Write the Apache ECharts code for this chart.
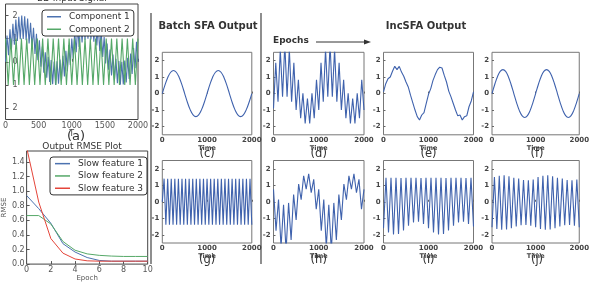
<!DOCTYPE html>
<html>
<head>
<meta charset="utf-8">
<script src="https://cdn.jsdelivr.net/npm/echarts@6/dist/echarts.min.js"></script>
<style>
  html, body { margin: 0; padding: 0; background: #fff; }
  #chart { width: 592px; height: 283px; }
</style>
</head>
<body>
<div id="chart"></div>
<script>
// (a) 2D input signal, values at evenly spaced times over 0..2000
var component1 = [0, 1.14, 0.28, 1.41, 0.53, 1.64, 0.74, 1.83, 0.90, 1.95, 0.98, 2.0, 0.99, 1.97, 0.93, 1.87, 0.79, 1.69, 0.59, 1.47,
  0.34, 1.21, 0.07, 0.93, -0.21, 0.66, -0.47, 0.41, -0.69, 0.21, -0.87, 0.07, -0.97, 0.01, -1.0, 0.02, -0.95, 0.10, -0.83, 0.26,
  -0.64, 0.47, -0.41, 0.72, -0.14, 1.0, 0.14, 1.28, 0.41, 1.53, 0.64, 1.74, 0.83, 1.90, 0.95, 1.98, 1.0, 1.99, 0.97, 1.93,
  0.87, 1.79, 0.70, 1.59, 0.47, 1.34, 0.21, 1.07, -0.07, 0.79, -0.34, 0.53, -0.59, 0.31, -0.79, 0.13, -0.93, 0.03, -0.99, 0.0,
  -0.98, 0.05, -0.90, 0.17, -0.74, 0.36, -0.53, 0.59, -0.28, 0.86, 0.0];
var component2 = [1, -1, 1, -1, 1, -1, 1, -1, 1, -1, 1, -1, 1, -1, 1, -1, 1, -1, 1, -1, 1, -1, 1, -1, 1, -1,
  1, -1, 1, -1, 1, -1, 1, -1, 1, -1, 1, -1, 1, -1, 1, -1, 1, -1, 1, -1, 1, -1, 1, -1, 1];

// (b) RMSE per epoch
var epochs = [0, 1, 2, 3, 4, 5, 6, 7, 8, 9, 10];
var rmse1 = [0.94, 0.76, 0.56, 0.28, 0.165, 0.09, 0.05, 0.04, 0.04, 0.04, 0.04];
var rmse2 = [0.665, 0.665, 0.55, 0.31, 0.19, 0.14, 0.12, 0.11, 0.105, 0.105, 0.105];
var rmse3 = [1.6, 0.85, 0.35, 0.15, 0.07, 0.045, 0.04, 0.04, 0.04, 0.04, 0.04];

// (c)-(f) slow feature output
var batchSlow = [0, 0.54, 0.99, 1.29, 1.4, 1.29, 0.99, 0.54, 0, -0.54, -0.99, -1.29, -1.4, -1.29, -0.99, -0.54,
  0, 0.54, 0.99, 1.29, 1.4, 1.29, 0.99, 0.54, 0, -0.54, -0.99, -1.29, -1.4, -1.29, -0.99, -0.54, 0];
var incSlowEarly = [-0.9, 1.86, -0.5, 2.68, -0.19, 3.0, -0.19, 2.68, -0.5, 1.86, -1.0, 0.84, -1.5, 0.02, -1.81, -0.3, -1.81, 0.02, -1.5, 0.84,
  -1.0, 1.86, -0.5, 2.68, -0.19, 3.0, -0.19, 2.68, -0.5, 1.86, -1.0, 0.84, -1.5, 0.02, -1.81, -0.3, -1.81, 0.02, -1.5, 0.84, -1.0];
var incSlowMid = [0.1, 0.6, 0.9, 1.0, 1.35, 1.65, 1.45, 1.65, 1.3, 1.05, 0.7, 0.4, -0.1, -0.55, -1.0, -1.4, -1.6, -1.3, -1.15, -0.6,
  -0.05, 0.3, 0.8, 1.15, 1.45, 1.6, 1.55, 1.1, 0.7, 0.15, -0.2, -0.6, -1.0, -1.35, -1.3, -1.6, -1.4, -1.35, -0.8, -0.45, 0.1];
var incSlowLate = [0, 0.55, 1.02, 1.34, 1.45, 1.34, 1.02, 0.55, 0, -0.55, -1.02, -1.34, -1.45, -1.34, -1.02, -0.55,
  0, 0.55, 1.02, 1.34, 1.45, 1.34, 1.02, 0.55, 0, -0.55, -1.02, -1.34, -1.45, -1.34, -1.02, -0.55, 0];

// (g)-(j) fast feature output
var batchFast = [0, 1.4, -1.4, 1.4, -1.4, 1.4, -1.4, 1.4, -1.4, 1.4, -1.4, 1.4, -1.4, 1.4, -1.4, 1.4, -1.4, 1.4, -1.4, 1.4, -1.4,
  1.4, -1.4, 1.4, -1.4, 1.4, -1.4, 1.4, -1.4, 1.4, -1.4, 1.4, -1.4, 1.4, -1.4, 1.4, -1.4, 1.4, -1.4, 1.4, -1.4,
  1.4, -1.4, 1.4, -1.4, 1.4, -1.4, 1.4, -1.4, 1.4, -1.4];
var incFastEarly = [0.75, -1.75, 0.14, -2.75, -0.19, -2.97, -0.07, -2.32, 0.43, -1.1, 1.07, 0.12, 1.57, 0.77, 1.69, 0.55, 1.36, -0.45, 0.75,
  -1.75, 0.14, -2.75, -0.19, -2.97, -0.07, -2.32, 0.43, -1.1, 1.07, 0.12, 1.57, 0.77, 1.69, 0.55, 1.36, -0.45, 0.75];
var incFastMid = [-1.6, 1.45, -1.86, 1.46, -1.99, 1.45, -1.95, 1.44, -1.74, 1.45, -1.46, 1.46, -1.25, 1.45, -1.21, 1.44, -1.34, 1.45, -1.6,
  1.45, -1.86, 1.46, -1.99, 1.45, -1.95, 1.44, -1.74, 1.45, -1.46, 1.46, -1.25, 1.45, -1.21, 1.44, -1.34, 1.45, -1.5];
var incFastLate = [-1.55, 1.50, -1.65, 1.58, -1.70, 1.60, -1.68, 1.55, -1.60, 1.45, -1.50, 1.40, -1.42, 1.32, -1.40, 1.30, -1.45, 1.35, -1.55,
  1.50, -1.65, 1.58, -1.70, 1.60, -1.68, 1.55, -1.60, 1.45, -1.50, 1.40, -1.42, 1.32, -1.40, 1.30, -1.45, 1.35, -1.55];

var timeMax = 2000;
var outTicks = [-2, -1, 0, 1, 2];
var rmseTicks = [0, 0.2, 0.4, 0.6, 0.8, 1.0, 1.2, 1.4];

function toTime(vals) {
  var step = timeMax / (vals.length - 1);
  return vals.map(function (v, i) { return [i * step, v]; });
}
function plain(v) { return String(v); }

var font = 'DejaVu Sans';
var blue = '#4c72b0', green = '#55a868', red = '#e4453a', outBlue = '#3f62ad';

var grids = [
  { left: 5, top: 4, width: 133, height: 115.5 },
  { left: 17.3, top: 151, width: 130.4, height: 116.7 }
];
var xAxes = [
  {
    gridIndex: 0, type: 'value', min: 0, max: timeMax, interval: 500,
    name: 'T', nameLocation: 'middle', nameGap: 8,
    nameTextStyle: { fontFamily: font, fontSize: 8, color: '#444' },
    axisLine: { show: false }, splitLine: { show: false },
    axisTick: { inside: true, length: 3, lineStyle: { color: '#555' } },
    axisLabel: { fontFamily: font, fontSize: 8, color: '#555', margin: 2, formatter: plain }
  },
  {
    gridIndex: 1, type: 'value', min: 0, max: 10, interval: 2,
    name: 'Epoch', nameLocation: 'middle', nameGap: 10,
    nameTextStyle: { fontFamily: font, fontSize: 7, color: '#555' },
    axisLine: { show: false }, splitLine: { show: false },
    axisTick: { inside: true, length: 3, lineStyle: { color: '#555' } },
    axisLabel: { fontFamily: font, fontSize: 8, color: '#555', margin: 2, formatter: plain }
  }
];
var yAxes = [
  {
    gridIndex: 0, type: 'value', min: -2.5, max: 2.5,
    axisLine: { show: false }, splitLine: { show: false },
    axisTick: { inside: true, length: 3, customValues: outTicks, lineStyle: { color: '#555' } },
    axisLabel: {
      inside: true, margin: 7, fontFamily: font, fontSize: 8, color: '#555', customValues: outTicks,
      formatter: function (v) { return String(Math.abs(v)); }
    }
  },
  {
    gridIndex: 1, type: 'value', min: 0, max: 1.55,
    name: 'RMSE', nameLocation: 'middle', nameRotate: 90, nameGap: 13,
    nameTextStyle: { fontFamily: font, fontSize: 7, color: '#555' },
    axisLine: { show: false }, splitLine: { show: false },
    axisTick: { inside: true, length: 3, customValues: rmseTicks, lineStyle: { color: '#555' } },
    axisLabel: {
      fontFamily: font, fontSize: 8, color: '#555', margin: 2, customValues: rmseTicks,
      formatter: function (v) { return v.toFixed(1); }
    }
  }
];
var series = [
  { name: 'Component 1', type: 'line', xAxisIndex: 0, yAxisIndex: 0, data: toTime(component1), showSymbol: false, lineStyle: { color: blue, width: 1.1 }, itemStyle: { color: blue } },
  { name: 'Component 2', type: 'line', xAxisIndex: 0, yAxisIndex: 0, data: toTime(component2), showSymbol: false, lineStyle: { color: green, width: 1.1 }, itemStyle: { color: green } },
  { name: 'Slow feature 1', type: 'line', xAxisIndex: 1, yAxisIndex: 1, data: epochs.map(function (e, i) { return [e, rmse1[i]]; }), showSymbol: false, lineStyle: { color: blue, width: 1 }, itemStyle: { color: blue } },
  { name: 'Slow feature 2', type: 'line', xAxisIndex: 1, yAxisIndex: 1, data: epochs.map(function (e, i) { return [e, rmse2[i]]; }), showSymbol: false, lineStyle: { color: green, width: 1 }, itemStyle: { color: green } },
  { name: 'Slow feature 3', type: 'line', xAxisIndex: 1, yAxisIndex: 1, data: epochs.map(function (e, i) { return [e, rmse3[i]]; }), showSymbol: false, lineStyle: { color: red, width: 1 }, itemStyle: { color: red } }
];

// small output panels: data, left, width, row top
var rowTop = [52.3, 160.5];
var panels = [
  { data: batchSlow, left: 162.3, width: 89.5, row: 0, smooth: true },
  { data: incSlowEarly, left: 273.5, width: 90.5, row: 0 },
  { data: incSlowMid, left: 383.5, width: 90, row: 0 },
  { data: incSlowLate, left: 492, width: 90, row: 0, smooth: true },
  { data: batchFast, left: 162.3, width: 89.5, row: 1 },
  { data: incFastEarly, left: 273.5, width: 90.5, row: 1 },
  { data: incFastMid, left: 383.5, width: 90, row: 1 },
  { data: incFastLate, left: 492, width: 90, row: 1 }
];
panels.forEach(function (p) {
  var gi = grids.length;
  grids.push({ left: p.left, top: rowTop[p.row], width: p.width, height: 82.5 });
  xAxes.push({
    gridIndex: gi, type: 'value', min: 0, max: timeMax, interval: 1000,
    name: 'Time', nameLocation: 'middle', nameGap: 6,
    nameTextStyle: { fontFamily: font, fontSize: 6.5, fontWeight: 'bold', color: '#444' },
    axisLine: { show: false }, splitLine: { show: false },
    axisTick: { inside: true, length: 2, lineStyle: { color: '#666' } },
    axisLabel: { fontFamily: font, fontSize: 7, fontWeight: 'bold', color: '#444', margin: 2, formatter: plain }
  });
  yAxes.push({
    gridIndex: gi, type: 'value', min: -2.5, max: 2.5,
    axisLine: { show: false }, splitLine: { show: false },
    axisTick: { inside: true, length: 2, customValues: outTicks, lineStyle: { color: '#666' } },
    axisLabel: { fontFamily: font, fontSize: 7, fontWeight: 'bold', color: '#444', margin: 3, customValues: outTicks }
  });
  series.push({
    type: 'line', xAxisIndex: gi, yAxisIndex: gi, data: toTime(p.data), showSymbol: false,
    smooth: p.smooth ? 0.4 : false, clip: true, lineStyle: { color: outBlue, width: 1.1 }
  });
});
grids.forEach(function (g, i) {
  g.show = true;
  g.backgroundColor = 'transparent';
  g.borderColor = i < 2 ? '#444' : '#777';
  g.borderWidth = 1;
});

function label(text, x, y, size, weight) {
  return {
    type: 'text', x: x, y: y,
    style: { text: text, fontFamily: font, fontSize: size, fontWeight: weight || 'normal', fill: '#333', align: 'center', verticalAlign: 'middle' }
  };
}

var graphics = [
  label('2D Input Signal', 72, -1, 9),
  label('(a)', 76, 137, 13),
  label('Output RMSE Plot', 82, 147, 9),
  label('Batch SFA Output', 208, 26, 10, 'bold'),
  label('IncSFA Output', 426, 26, 10, 'bold'),
  { type: 'text', x: 273, y: 41, style: { text: 'Epochs', fontFamily: font, fontSize: 9, fontWeight: 'bold', fill: '#333', verticalAlign: 'middle' } },
  { type: 'line', shape: { x1: 316, y1: 42, x2: 366, y2: 42 }, style: { stroke: '#333', lineWidth: 1 } },
  { type: 'polygon', shape: { points: [[371, 42], [364, 39.5], [364, 44.5]] }, style: { fill: '#333' } },
  { type: 'line', shape: { x1: 151, y1: 13, x2: 151, y2: 264 }, style: { stroke: '#444', lineWidth: 1.2 } },
  { type: 'line', shape: { x1: 261, y1: 13, x2: 261, y2: 264 }, style: { stroke: '#444', lineWidth: 1.2 } }
];
var letters = ['(c)', '(d)', '(e)', '(f)', '(g)', '(h)', '(i)', '(j)'];
panels.forEach(function (p, i) {
  graphics.push(label(letters[i], p.left + p.width / 2, p.row === 0 ? 154 : 260, 11.5));
});

var chart = echarts.init(document.getElementById('chart'));
chart.setOption({
  animation: false,
  backgroundColor: '#fff',
  grid: grids,
  xAxis: xAxes,
  yAxis: yAxes,
  legend: [
    {
      data: ['Component 1', 'Component 2'], left: 42, top: 10, orient: 'vertical',
      icon: 'rect', itemWidth: 14, itemHeight: 1.5, itemGap: 1,
      padding: [1, 4, 1, 5], backgroundColor: '#fff', borderColor: '#333', borderWidth: 1, borderRadius: 3,
      textStyle: { fontFamily: font, fontSize: 9, color: '#333', lineHeight: 11.5, padding: [0, 0, 0, 3] }
    },
    {
      data: ['Slow feature 1', 'Slow feature 2', 'Slow feature 3'], left: 50, top: 157, orient: 'vertical',
      icon: 'rect', itemWidth: 15, itemHeight: 1.5, itemGap: 1,
      padding: [1, 4, 1, 5], backgroundColor: '#fff', borderColor: '#333', borderWidth: 1, borderRadius: 3,
      textStyle: { fontFamily: font, fontSize: 9, color: '#333', lineHeight: 11.3, padding: [0, 0, 0, 3] }
    }
  ],
  graphic: graphics,
  series: series
});
</script>
</body>
</html>
